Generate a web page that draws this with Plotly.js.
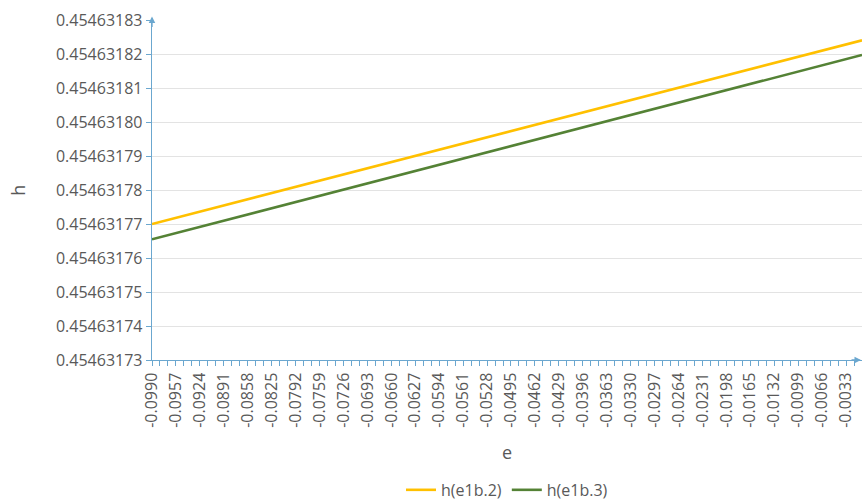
<!DOCTYPE html>
<html>
<head>
<meta charset="utf-8">
<script src="https://cdn.plot.ly/plotly-3.0.1.min.js"></script>
<style>
html,body{margin:0;padding:0;background:#fff;}
#chart{width:862px;height:503px;}
</style>
</head>
<body>
<div id="chart"></div>
<script>
// e values (categories along x)
const eValues = [-0.0990, -0.0979, -0.0968, -0.0957, -0.0946, -0.0935, -0.0924, -0.0913, -0.0902, -0.0891,
  -0.0880, -0.0869, -0.0858, -0.0847, -0.0836, -0.0825, -0.0814, -0.0803, -0.0792, -0.0781,
  -0.0770, -0.0759, -0.0748, -0.0737, -0.0726, -0.0715, -0.0704, -0.0693, -0.0682, -0.0671,
  -0.0660, -0.0649, -0.0638, -0.0627, -0.0616, -0.0605, -0.0594, -0.0583, -0.0572, -0.0561,
  -0.0550, -0.0539, -0.0528, -0.0517, -0.0506, -0.0495, -0.0484, -0.0473, -0.0462, -0.0451,
  -0.0440, -0.0429, -0.0418, -0.0407, -0.0396, -0.0385, -0.0374, -0.0363, -0.0352, -0.0341,
  -0.0330, -0.0319, -0.0308, -0.0297, -0.0286, -0.0275, -0.0264, -0.0253, -0.0242, -0.0231,
  -0.0220, -0.0209, -0.0198, -0.0187, -0.0176, -0.0165, -0.0154, -0.0143, -0.0132, -0.0121,
  -0.0110, -0.0099, -0.0088, -0.0077, -0.0066, -0.0055, -0.0044, -0.0033, -0.0022, -0.0011];

// labelled ticks along x
const xTickLabels = ["-0.0990","-0.0957","-0.0924","-0.0891","-0.0858","-0.0825","-0.0792","-0.0759","-0.0726","-0.0693",
  "-0.0660","-0.0627","-0.0594","-0.0561","-0.0528","-0.0495","-0.0462","-0.0429","-0.0396","-0.0363",
  "-0.0330","-0.0297","-0.0264","-0.0231","-0.0198","-0.0165","-0.0132","-0.0099","-0.0066","-0.0033"];

// y tick labels
const yTickLabels = ["0.45463173","0.45463174","0.45463175","0.45463176","0.45463177",
  "0.45463178","0.45463179","0.45463180","0.45463181","0.45463182","0.45463183"];

// series h(e1b.2)
const hE1b2 = [0.454631770000,0.454631770607,0.454631771214,0.454631771821,0.454631772428,0.454631773035,0.454631773642,0.454631774249,0.454631774856,0.454631775463,
  0.454631776070,0.454631776677,0.454631777284,0.454631777891,0.454631778498,0.454631779105,0.454631779712,0.454631780319,0.454631780926,0.454631781533,
  0.454631782140,0.454631782747,0.454631783354,0.454631783961,0.454631784568,0.454631785175,0.454631785782,0.454631786389,0.454631786996,0.454631787603,
  0.454631788210,0.454631788817,0.454631789424,0.454631790031,0.454631790638,0.454631791245,0.454631791852,0.454631792459,0.454631793066,0.454631793673,
  0.454631794280,0.454631794887,0.454631795494,0.454631796101,0.454631796708,0.454631797315,0.454631797922,0.454631798529,0.454631799136,0.454631799743,
  0.454631800350,0.454631800957,0.454631801564,0.454631802171,0.454631802778,0.454631803385,0.454631803992,0.454631804599,0.454631805206,0.454631805813,
  0.454631806420,0.454631807027,0.454631807634,0.454631808241,0.454631808848,0.454631809455,0.454631810062,0.454631810669,0.454631811276,0.454631811883,
  0.454631812490,0.454631813097,0.454631813704,0.454631814311,0.454631814918,0.454631815525,0.454631816132,0.454631816739,0.454631817346,0.454631817953,
  0.454631818560,0.454631819167,0.454631819774,0.454631820381,0.454631820988,0.454631821595,0.454631822202,0.454631822809,0.454631823416,0.454631824023];

// series h(e1b.3)
const hE1b3 = [0.454631765500,0.454631766109,0.454631766718,0.454631767327,0.454631767936,0.454631768545,0.454631769154,0.454631769763,0.454631770372,0.454631770981,
  0.454631771590,0.454631772199,0.454631772808,0.454631773417,0.454631774026,0.454631774635,0.454631775244,0.454631775853,0.454631776462,0.454631777071,
  0.454631777680,0.454631778289,0.454631778898,0.454631779507,0.454631780116,0.454631780725,0.454631781334,0.454631781943,0.454631782552,0.454631783161,
  0.454631783770,0.454631784379,0.454631784988,0.454631785597,0.454631786206,0.454631786815,0.454631787424,0.454631788033,0.454631788642,0.454631789251,
  0.454631789860,0.454631790469,0.454631791078,0.454631791687,0.454631792296,0.454631792905,0.454631793514,0.454631794123,0.454631794732,0.454631795341,
  0.454631795950,0.454631796559,0.454631797168,0.454631797777,0.454631798386,0.454631798995,0.454631799604,0.454631800213,0.454631800822,0.454631801431,
  0.454631802040,0.454631802649,0.454631803258,0.454631803867,0.454631804476,0.454631805085,0.454631805694,0.454631806303,0.454631806912,0.454631807521,
  0.454631808130,0.454631808739,0.454631809348,0.454631809957,0.454631810566,0.454631811175,0.454631811784,0.454631812393,0.454631813002,0.454631813611,
  0.454631814220,0.454631814829,0.454631815438,0.454631816047,0.454631816656,0.454631817265,0.454631817874,0.454631818483,0.454631819092,0.454631819701];

const seriesNames = ["h(e1b.2)", "h(e1b.3)"];
const seriesColors = ["#FFC000", "#548235"];
const xTitle = "e";
const yTitle = "h";

const xTickVals = xTickLabels.map(Number);
const yTickVals = yTickLabels.map(Number);

const axisBlue = "#6BA7CF";
const textGrey = "#595959";
const fontFam = "'Open Sans', sans-serif";

const traces = [hE1b2, hE1b3].map((ys, k) => ({
  x: eValues, y: ys, type: "scatter", mode: "lines", name: seriesNames[k],
  line: {color: seriesColors[k], width: 2.6}, hoverinfo: "x+y"
}));

const layout = {
  width: 862, height: 503,
  margin: {l: 152, r: 0, t: 20, b: 143, autoexpand: false},
  paper_bgcolor: "#fff", plot_bgcolor: "#fff",
  font: {family: fontFam, color: textGrey, size: 16},
  showlegend: true,
  legend: {orientation: "h", xref: "paper", x: 0.5, xanchor: "center",
    yref: "container", y: 0.026, yanchor: "middle",
    font: {size: 16, color: textGrey}, itemwidth: 30, tracegroupgap: 0},
  xaxis: {
    type: "linear", automargin: false,
    range: [eValues[0], eValues[eValues.length - 1]],
    tickmode: "array", tickvals: xTickVals, ticktext: xTickLabels,
    tickangle: -90, tickfont: {size: 16, color: textGrey},
    ticks: "outside", ticklen: 5, tickcolor: axisBlue, tickwidth: 1,
    minor: {tickmode: "array", tickvals: eValues, ticks: "outside", ticklen: 5, tickcolor: axisBlue, tickwidth: 1, showgrid: false},
    showgrid: false, zeroline: false,
    showline: true, linecolor: axisBlue, linewidth: 1.3
  },
  yaxis: {
    automargin: false,
    range: [yTickVals[0], yTickVals[yTickVals.length - 1]],
    tickmode: "array", tickvals: yTickVals, ticktext: yTickLabels,
    tickfont: {size: 16, color: textGrey},
    ticks: "outside", ticklen: 5, tickcolor: axisBlue,
    showgrid: true, gridcolor: "#E3E3E3", gridwidth: 1,
    zeroline: false, showline: true, linecolor: axisBlue, linewidth: 1.3
  },
  annotations: [
    {xref: "paper", yref: "paper", x: 0, y: 1.01, ax: 0, ay: 12, showarrow: true,
     arrowhead: 2, arrowsize: 1, arrowwidth: 1.3, arrowcolor: axisBlue, text: ""},
    {xref: "paper", yref: "paper", x: 1.0, y: 0, ax: -12, ay: 0, showarrow: true,
     arrowhead: 2, arrowsize: 1, arrowwidth: 1.3, arrowcolor: axisBlue, text: ""},
    {xref: "paper", yref: "paper", x: 0.5, y: -0.27, xanchor: "center", yanchor: "middle",
     showarrow: false, text: xTitle, font: {size: 18, color: textGrey}},
    {xref: "paper", yref: "paper", x: -0.189, y: 0.5, xanchor: "center", yanchor: "middle",
     showarrow: false, text: yTitle, textangle: -90, font: {size: 18, color: textGrey}}
  ]
};

Plotly.newPlot("chart", traces, layout, {displayModeBar: false, staticPlot: true});
</script>
</body>
</html>
